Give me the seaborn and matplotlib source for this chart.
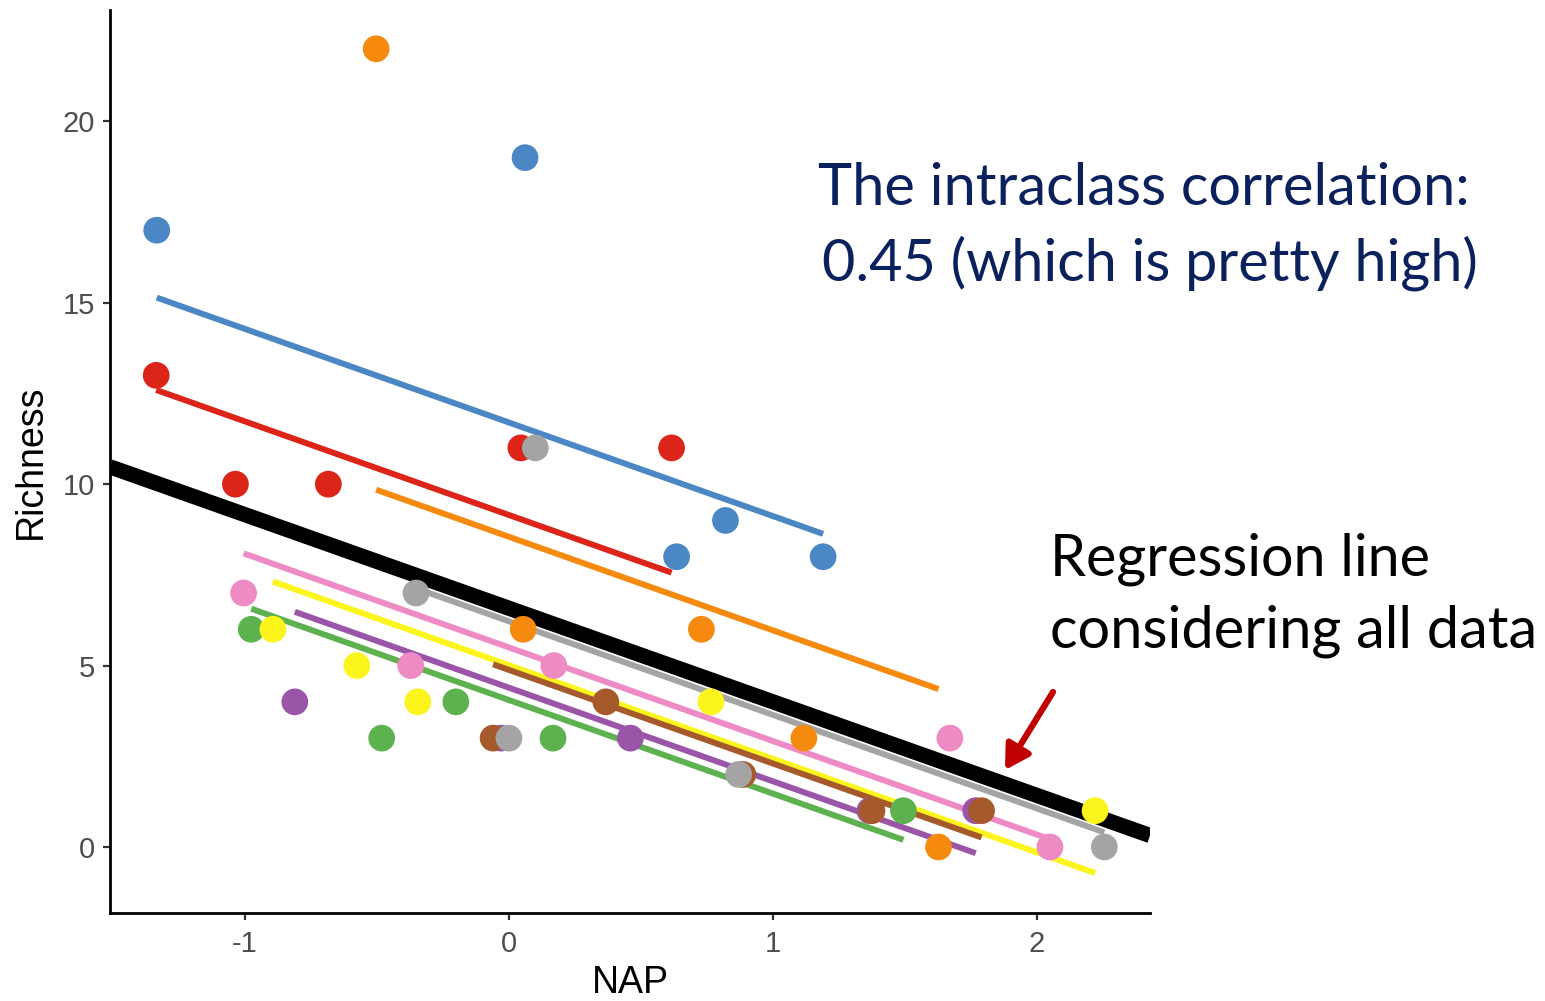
import numpy as np
import pandas as pd
import matplotlib
matplotlib.use("Agg")
import matplotlib.pyplot as plt
import seaborn as sns

# ---------------- data ----------------
beach = [1]*5 + [2]*5 + [3]*5 + [4]*5 + [5]*5 + [6]*5 + [7]*5 + [8]*5 + [9]*5
nap = [0.045, -1.036, -1.336, 0.616, -0.684,
       1.190, 0.820, 0.635, 0.061, -1.334,
       -0.976, 1.494, -0.201, -0.482, 0.167,
       1.768, -0.030, 0.460, 1.367, -0.811,
       1.117, -0.503, 0.729, 1.627, 0.054,
       -0.894, -0.576, -0.345, 0.765, 2.220,
       -0.060, 0.367, 0.886, 1.375, 1.790,
       -1.005, -0.372, 0.170, 1.670, 2.049,
       -0.352, 0.100, 0.000, 0.870, 2.255]
richness = [11, 10, 13, 11, 10,
            8, 9, 8, 19, 17,
            6, 1, 4, 3, 3,
            1, 3, 3, 1, 4,
            3, 22, 6, 0, 6,
            6, 5, 4, 4, 1,
            3, 4, 2, 1, 1,
            7, 5, 5, 3, 0,
            7, 11, 3, 2, 0]
beach_ids = [1, 2, 3, 4, 5, 6, 7, 8, 9]
beach_colors = ["#DC2419", "#4A87C4", "#5DB14E", "#9A55A9", "#F68A0E",
                "#FBF51D", "#A65A2C", "#EE8AC4", "#A4A4A4"]
beach_intercepts = [9.15, 11.70, 4.05, 4.39, 8.55, 5.01, 4.88, 5.50, 6.22]
fixed_intercept = 6.58
common_slope = -2.58

x_ticks = [-1, 0, 1, 2]
y_ticks = [0, 5, 10, 15, 20]

df = pd.DataFrame({"NAP": nap, "Richness": richness, "Beach": beach})
icpt = dict(zip(beach_ids, beach_intercepts))
df["fit"] = df["Beach"].map(icpt) + common_slope * df["NAP"]

# ---------------- figure ----------------
W, H = 1545, 1001
sns.set_theme(style="ticks")
plt.rcParams["font.family"] = ["Liberation Sans", "DejaVu Sans"]

fig = plt.figure(figsize=(W / 100, H / 100), dpi=100)
ax = fig.add_axes([110 / W, 1 - 913 / H, (1150 - 110) / W, (913 - 10) / H])

pal = dict(zip(beach_ids, beach_colors))

# overall regression line
ax.axline((0, fixed_intercept), slope=common_slope, color="black", lw=11,
          solid_capstyle="butt", zorder=1)

# per-beach fitted lines
sns.lineplot(data=df, x="NAP", y="fit", hue="Beach", palette=pal, estimator=None,
             sort=True, lw=4.3, legend=False, ax=ax, zorder=2)
for ln in ax.lines:
    ln.set_solid_capstyle("butt")

# points
sns.scatterplot(data=df, x="NAP", y="Richness", hue="Beach", palette=pal, s=370,
                linewidth=0, legend=False, ax=ax, zorder=3)

ax.set_xlim(-1.511, 2.428)
ax.set_ylim(-1.82, 23.07)
ax.set_xticks(x_ticks)
ax.set_yticks(y_ticks)
ax.set_xticklabels([str(v) for v in x_ticks])
ax.set_yticklabels([str(v) for v in y_ticks])

for s in ["top", "right"]:
    ax.spines[s].set_visible(False)
for s in ["left", "bottom"]:
    ax.spines[s].set_color("black")
    ax.spines[s].set_linewidth(2.0)
ax.tick_params(axis="both", which="major", direction="out", length=5, width=1.6,
               color="#333333", labelcolor="#4D4D4D", labelsize=21,
               bottom=True, left=True)
ax.tick_params(axis="y", pad=6)
ax.tick_params(axis="x", pad=7)
ax.set_xlabel("NAP", fontsize=27, color="black", labelpad=5)
ax.set_ylabel("Richness", fontsize=27, color="black", labelpad=10)
ax.set_facecolor("white")
fig.patch.set_facecolor("white")

# ---------------- annotations ----------------
def fit_text(x_px, y_px, s, target_w, color, family, size0=40):
    t = fig.text(x_px / W, 1 - y_px / H, s, fontsize=size0, family=family,
                 color=color, ha="left", va="baseline")
    fig.canvas.draw()
    w = t.get_window_extent().width
    t.set_fontsize(size0 * target_w / w)
    return t

navy = "#0A215E"
fam = ["Lato", "DejaVu Sans"]
fit_text(818, 205, "The intraclass correlation:", 652, navy, fam)
fit_text(822, 280, "0.45 (which is pretty high)", 656, navy, fam)
fit_text(1050, 575, "Regression line", 380, "black", fam)
fit_text(1050, 648, "considering all data", 487, "black", fam)

# red arrow
ax.annotate("", xy=(1005, H - 770), xycoords="figure pixels",
            xytext=(1053, H - 692), textcoords="figure pixels",
            arrowprops=dict(arrowstyle="-|>,head_length=1.2,head_width=0.7",
                            color="#C00000", lw=4.5, shrinkA=0, shrinkB=0),
            annotation_clip=False)

fig.savefig("out.png", dpi=100, facecolor="white")
